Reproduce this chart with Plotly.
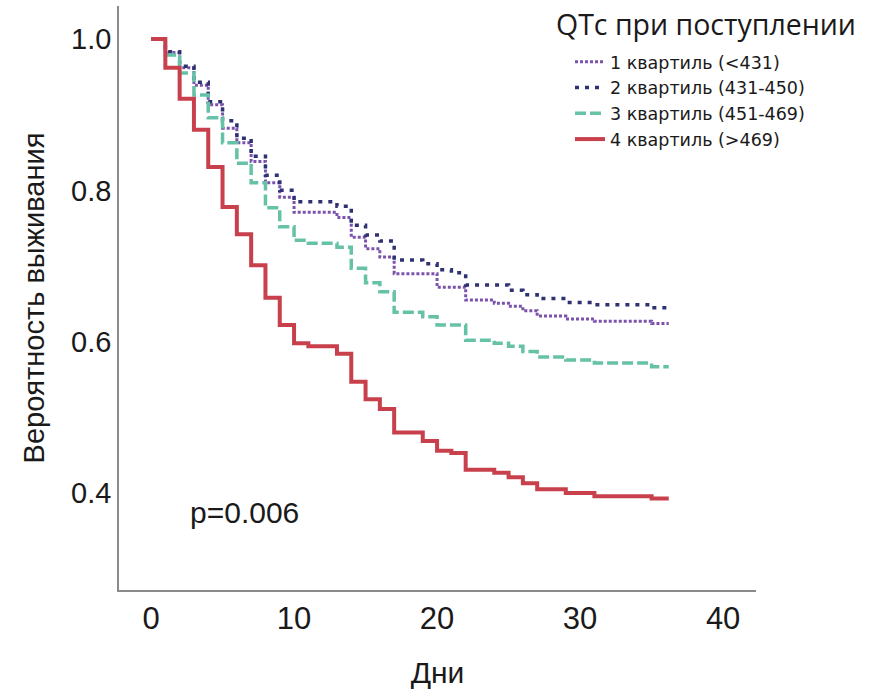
import plotly.graph_objects as go

# ---- data ----
END_DAY = 36.2

q1_days = [0, 1, 2, 3, 4, 5, 6, 7, 8, 9, 10, 13, 14, 15, 16, 17, 20, 22, 24, 25, 26, 27, 29, 31, 35]
q1_surv = [1.0, 0.982, 0.962, 0.939, 0.913, 0.882, 0.863, 0.838, 0.810, 0.791, 0.771, 0.764, 0.738,
           0.723, 0.712, 0.690, 0.672, 0.655, 0.651, 0.647, 0.641, 0.634, 0.630, 0.627, 0.624]

q2_days = [0, 1, 2, 3, 4, 5, 6, 7, 8, 9, 10, 13, 14, 15, 16, 17, 19, 20, 21, 22, 25, 26, 27, 29, 31, 35]
q2_surv = [1.0, 0.983, 0.964, 0.943, 0.917, 0.892, 0.869, 0.845, 0.820, 0.800, 0.785, 0.779, 0.754,
           0.741, 0.733, 0.708, 0.703, 0.695, 0.691, 0.675, 0.668, 0.662, 0.657, 0.652, 0.649, 0.645]

q3_days = [0, 1, 2, 3, 4, 5, 6, 7, 8, 9, 10, 11, 13, 14, 15, 16, 17, 19, 20, 22, 24, 25, 26, 27, 29, 31, 35]
q3_surv = [1.0, 0.979, 0.955, 0.926, 0.896, 0.863, 0.836, 0.810, 0.777, 0.752, 0.734, 0.730, 0.725,
           0.697, 0.678, 0.666, 0.639, 0.633, 0.622, 0.602, 0.598, 0.594, 0.587, 0.580, 0.576, 0.572, 0.567]

q4_days = [0, 1, 2, 3, 4, 5, 6, 7, 8, 9, 10, 11, 13, 14, 15, 16, 17, 19, 20, 21, 22, 24, 25, 26, 27, 29, 31, 35]
q4_surv = [1.0, 0.962, 0.921, 0.880, 0.831, 0.778, 0.742, 0.701, 0.658, 0.622, 0.598, 0.594, 0.584,
           0.547, 0.524, 0.511, 0.480, 0.469, 0.456, 0.453, 0.431, 0.427, 0.421, 0.413, 0.405, 0.400,
           0.396, 0.393]

series_names = ["1 квартиль (<431)", "2 квартиль (431-450)", "3 квартиль (451-469)", "4 квартиль (>469)"]
x_ticks = [0, 10, 20, 30, 40]
y_ticks = [0.4, 0.6, 0.8, 1.0]
y_tick_labels = ["0.4", "0.6", "0.8", "1.0"]

styles = [
    dict(color="#7b53ad", width=3, dash="3px,2px"),
    dict(color="#2f3272", width=3.5, dash="4px,6px"),
    dict(color="#66c2a6", width=3.5, dash="11px,4px"),
    dict(color="#c8404c", width=4, dash="solid"),
]

fig = go.Figure()
for name, days, surv, st in zip(series_names,
                                [q1_days, q2_days, q3_days, q4_days],
                                [q1_surv, q2_surv, q3_surv, q4_surv],
                                styles):
    xs = list(days) + [END_DAY]
    ys = list(surv) + [surv[-1]]
    fig.add_trace(go.Scatter(x=xs, y=ys, mode="lines", name=name,
                             line=dict(shape="hv", **st)))

fig.update_layout(
    width=873, height=689,
    margin=dict(l=119, r=117, t=6, b=99, autoexpand=False),
    paper_bgcolor="white", plot_bgcolor="white",
    font=dict(family="Liberation Sans, Arial, sans-serif", color="#1a1a1a"),
    showlegend=True,
    legend=dict(x=0.708, y=0.935, xanchor="left", yanchor="top",
                font=dict(family="DejaVu Sans, sans-serif", size=17.5, color="#1a1a1a"),
                bgcolor="rgba(0,0,0,0)", tracegroupgap=0, itemwidth=30),
    xaxis=dict(range=[-2.24, 42.3], tickvals=x_ticks, showgrid=False, zeroline=False,
               showline=True, linecolor="#8a8a8a", linewidth=1.5, ticks="",
               tickfont=dict(size=31), ticklabelstandoff=0, automargin=False,
               title=dict(text="Дни", font=dict(size=30), standoff=27)),
    yaxis=dict(range=[0.272, 1.0436], tickvals=y_ticks, ticktext=y_tick_labels,
               showgrid=False, zeroline=False,
               showline=True, linecolor="#8a8a8a", linewidth=1.5, ticks="",
               tickfont=dict(size=29), ticklabelstandoff=0, automargin=False,
               title=dict(text="Вероятность выживания", font=dict(size=29), standoff=18)),
)

fig.add_annotation(text="QTc при поступлении", xref="paper", yref="paper",
                   x=(554 - 119) / 637, y=1 - (24 - 6) / 584, xanchor="left", yanchor="middle",
                   showarrow=False, font=dict(family="Open Sans, sans-serif", size=28.5, color="#1a1a1a"))
fig.add_annotation(text="p=0.006", xref="x", yref="y", x=6.5, y=0.374,
                   xanchor="center", yanchor="middle", showarrow=False,
                   font=dict(size=30, color="#1a1a1a"))

fig.write_html("out.html", config={"displayModeBar": False},
               post_script="document.body.style.margin='0';")
